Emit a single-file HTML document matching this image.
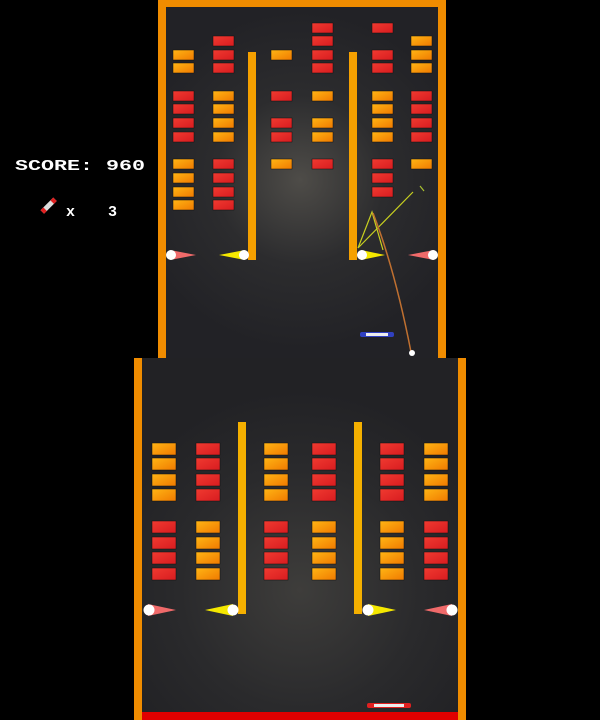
<!DOCTYPE html>
<html><head><meta charset="utf-8"><style>
html,body{margin:0;padding:0;background:#000;width:600px;height:720px;overflow:hidden}
svg{display:block}
</style></head><body>
<svg width="600" height="720" viewBox="0 0 600 720" xmlns="http://www.w3.org/2000/svg">
<defs>
<radialGradient id="g1" cx="300" cy="180" r="170" gradientUnits="userSpaceOnUse">
<stop offset="0" stop-color="#4e4c48"/><stop offset="0.5" stop-color="#2c2c2e"/><stop offset="1" stop-color="#222226"/></radialGradient>
<radialGradient id="g2" cx="300" cy="590" r="200" gradientUnits="userSpaceOnUse">
<stop offset="0" stop-color="#3e3d3b"/><stop offset="0.6" stop-color="#2a2a2c"/><stop offset="1" stop-color="#222225"/></radialGradient>
<linearGradient id="o" x1="0" y1="0" x2="1" y2="1"><stop offset="0" stop-color="#ffb514"/><stop offset="1" stop-color="#f07a00"/></linearGradient>
<linearGradient id="r" x1="0" y1="0" x2="1" y2="1"><stop offset="0" stop-color="#f03a30"/><stop offset="1" stop-color="#d81c20"/></linearGradient>
</defs>
<rect width="600" height="720" fill="#000"/>
<rect x="158" y="0" width="288" height="360" fill="#f08c00"/>
<rect x="166" y="7" width="272" height="353" fill="url(#g1)"/>
<rect x="134" y="358" width="332" height="362" fill="#f08c00"/>
<rect x="142" y="358" width="316" height="362" fill="url(#g2)"/>
<rect x="142" y="712" width="316" height="8" fill="#e00000"/>
<rect x="248" y="52" width="8" height="208" fill="#f5a000"/>
<rect x="349" y="52" width="8" height="208" fill="#f5a000"/>
<rect x="238" y="422" width="8" height="192" fill="#f5b000"/>
<rect x="354" y="422" width="8" height="192" fill="#f5b000"/>
<g stroke="#111" stroke-width="0.5">
<rect x="173" y="50" width="21" height="10" fill="url(#o)"/><rect x="173" y="63" width="21" height="10" fill="url(#o)"/>
<rect x="173" y="91" width="21" height="10" fill="url(#r)"/><rect x="173" y="104" width="21" height="10" fill="url(#r)"/><rect x="173" y="118" width="21" height="10" fill="url(#r)"/><rect x="173" y="132" width="21" height="10" fill="url(#r)"/>
<rect x="173" y="159" width="21" height="10" fill="url(#o)"/><rect x="173" y="173" width="21" height="10" fill="url(#o)"/><rect x="173" y="187" width="21" height="10" fill="url(#o)"/><rect x="173" y="200" width="21" height="10" fill="url(#o)"/>
<rect x="213" y="36" width="21" height="10" fill="url(#r)"/><rect x="213" y="50" width="21" height="10" fill="url(#r)"/><rect x="213" y="63" width="21" height="10" fill="url(#r)"/>
<rect x="213" y="91" width="21" height="10" fill="url(#o)"/><rect x="213" y="104" width="21" height="10" fill="url(#o)"/><rect x="213" y="118" width="21" height="10" fill="url(#o)"/><rect x="213" y="132" width="21" height="10" fill="url(#o)"/>
<rect x="213" y="159" width="21" height="10" fill="url(#r)"/><rect x="213" y="173" width="21" height="10" fill="url(#r)"/><rect x="213" y="187" width="21" height="10" fill="url(#r)"/><rect x="213" y="200" width="21" height="10" fill="url(#r)"/>
<rect x="271" y="50" width="21" height="10" fill="url(#o)"/><rect x="271" y="91" width="21" height="10" fill="url(#r)"/><rect x="271" y="118" width="21" height="10" fill="url(#r)"/><rect x="271" y="132" width="21" height="10" fill="url(#r)"/><rect x="271" y="159" width="21" height="10" fill="url(#o)"/>
<rect x="312" y="23" width="21" height="10" fill="url(#r)"/><rect x="312" y="36" width="21" height="10" fill="url(#r)"/><rect x="312" y="50" width="21" height="10" fill="url(#r)"/><rect x="312" y="63" width="21" height="10" fill="url(#r)"/>
<rect x="312" y="91" width="21" height="10" fill="url(#o)"/><rect x="312" y="118" width="21" height="10" fill="url(#o)"/><rect x="312" y="132" width="21" height="10" fill="url(#o)"/><rect x="312" y="159" width="21" height="10" fill="url(#r)"/>
<rect x="372" y="23" width="21" height="10" fill="url(#r)"/><rect x="372" y="50" width="21" height="10" fill="url(#r)"/><rect x="372" y="63" width="21" height="10" fill="url(#r)"/>
<rect x="372" y="91" width="21" height="10" fill="url(#o)"/><rect x="372" y="104" width="21" height="10" fill="url(#o)"/><rect x="372" y="118" width="21" height="10" fill="url(#o)"/><rect x="372" y="132" width="21" height="10" fill="url(#o)"/>
<rect x="372" y="159" width="21" height="10" fill="url(#r)"/><rect x="372" y="173" width="21" height="10" fill="url(#r)"/><rect x="372" y="187" width="21" height="10" fill="url(#r)"/>
<rect x="411" y="36" width="21" height="10" fill="url(#o)"/><rect x="411" y="50" width="21" height="10" fill="url(#o)"/><rect x="411" y="63" width="21" height="10" fill="url(#o)"/>
<rect x="411" y="91" width="21" height="10" fill="url(#r)"/><rect x="411" y="104" width="21" height="10" fill="url(#r)"/><rect x="411" y="118" width="21" height="10" fill="url(#r)"/><rect x="411" y="132" width="21" height="10" fill="url(#r)"/>
<rect x="411" y="159" width="21" height="10" fill="url(#o)"/>
<rect x="152" y="443" width="24" height="12" fill="url(#o)"/><rect x="152" y="458" width="24" height="12" fill="url(#o)"/><rect x="152" y="474" width="24" height="12" fill="url(#o)"/><rect x="152" y="489" width="24" height="12" fill="url(#o)"/>
<rect x="196" y="443" width="24" height="12" fill="url(#r)"/><rect x="196" y="458" width="24" height="12" fill="url(#r)"/><rect x="196" y="474" width="24" height="12" fill="url(#r)"/><rect x="196" y="489" width="24" height="12" fill="url(#r)"/>
<rect x="264" y="443" width="24" height="12" fill="url(#o)"/><rect x="264" y="458" width="24" height="12" fill="url(#o)"/><rect x="264" y="474" width="24" height="12" fill="url(#o)"/><rect x="264" y="489" width="24" height="12" fill="url(#o)"/>
<rect x="312" y="443" width="24" height="12" fill="url(#r)"/><rect x="312" y="458" width="24" height="12" fill="url(#r)"/><rect x="312" y="474" width="24" height="12" fill="url(#r)"/><rect x="312" y="489" width="24" height="12" fill="url(#r)"/>
<rect x="380" y="443" width="24" height="12" fill="url(#r)"/><rect x="380" y="458" width="24" height="12" fill="url(#r)"/><rect x="380" y="474" width="24" height="12" fill="url(#r)"/><rect x="380" y="489" width="24" height="12" fill="url(#r)"/>
<rect x="424" y="443" width="24" height="12" fill="url(#o)"/><rect x="424" y="458" width="24" height="12" fill="url(#o)"/><rect x="424" y="474" width="24" height="12" fill="url(#o)"/><rect x="424" y="489" width="24" height="12" fill="url(#o)"/>
<rect x="152" y="521" width="24" height="12" fill="url(#r)"/><rect x="152" y="537" width="24" height="12" fill="url(#r)"/><rect x="152" y="552" width="24" height="12" fill="url(#r)"/><rect x="152" y="568" width="24" height="12" fill="url(#r)"/>
<rect x="196" y="521" width="24" height="12" fill="url(#o)"/><rect x="196" y="537" width="24" height="12" fill="url(#o)"/><rect x="196" y="552" width="24" height="12" fill="url(#o)"/><rect x="196" y="568" width="24" height="12" fill="url(#o)"/>
<rect x="264" y="521" width="24" height="12" fill="url(#r)"/><rect x="264" y="537" width="24" height="12" fill="url(#r)"/><rect x="264" y="552" width="24" height="12" fill="url(#r)"/><rect x="264" y="568" width="24" height="12" fill="url(#r)"/>
<rect x="312" y="521" width="24" height="12" fill="url(#o)"/><rect x="312" y="537" width="24" height="12" fill="url(#o)"/><rect x="312" y="552" width="24" height="12" fill="url(#o)"/><rect x="312" y="568" width="24" height="12" fill="url(#o)"/>
<rect x="380" y="521" width="24" height="12" fill="url(#o)"/><rect x="380" y="537" width="24" height="12" fill="url(#o)"/><rect x="380" y="552" width="24" height="12" fill="url(#o)"/><rect x="380" y="568" width="24" height="12" fill="url(#o)"/>
<rect x="424" y="521" width="24" height="12" fill="url(#r)"/><rect x="424" y="537" width="24" height="12" fill="url(#r)"/><rect x="424" y="552" width="24" height="12" fill="url(#r)"/><rect x="424" y="568" width="24" height="12" fill="url(#r)"/>
</g>
<polygon points="170,250 196,255 170,260" fill="#f06a6a"/><circle cx="171" cy="255" r="5" fill="#fff"/>
<polygon points="245,250 219,255 245,260" fill="#f5e800"/><circle cx="244" cy="255" r="5" fill="#fff"/>
<polygon points="361,250 385,255 361,260" fill="#f5e800"/><circle cx="362" cy="255" r="5" fill="#fff"/>
<polygon points="434,250 408,255 434,260" fill="#f06a6a"/><circle cx="433" cy="255" r="5" fill="#fff"/>
<polygon points="148,604 176,610 148,616" fill="#f06a6a"/><circle cx="149" cy="610" r="5.5" fill="#fff"/>
<polygon points="233,604 205,610 233,616" fill="#f5e800"/><circle cx="233" cy="610" r="5.5" fill="#fff"/>
<polygon points="368,604 396,610 368,616" fill="#f5e800"/><circle cx="368" cy="610" r="5.5" fill="#fff"/>
<polygon points="452,604 424,610 452,616" fill="#f06a6a"/><circle cx="452" cy="610" r="5.5" fill="#fff"/>
<polyline points="413,192 358,248 372,212 383,250" fill="none" stroke="#c8d020" stroke-width="1.2"/>
<path d="M373,213 Q395,270 411,352" fill="none" stroke="#c07030" stroke-width="1.5"/>
<line x1="420" y1="186" x2="424" y2="191" stroke="#a8c030" stroke-width="1.2"/>
<circle cx="412" cy="353" r="3" fill="#fff"/>
<rect x="360" y="332" width="34" height="5" rx="2" fill="#3040c0"/><rect x="366" y="333" width="22" height="3" fill="#eee"/>
<rect x="367" y="703" width="44" height="5" rx="2" fill="#e02020"/><rect x="374" y="704" width="30" height="3" fill="#eee"/>
<text x="15" y="170" fill="#fff" font-family="Liberation Mono, monospace" font-weight="bold" font-size="15" textLength="130" lengthAdjust="spacingAndGlyphs">SCORE: 960</text>
<g transform="rotate(-45 49 206)"><rect x="40" y="203" width="18" height="5" fill="#ddd"/><rect x="40" y="203" width="4" height="5" fill="#e02020"/><rect x="54" y="203" width="4" height="5" fill="#e02020"/></g>
<text x="66" y="216" fill="#fff" font-family="Liberation Mono, monospace" font-weight="bold" font-size="15">x</text>
<text x="108" y="216" fill="#fff" font-family="Liberation Mono, monospace" font-weight="bold" font-size="15">3</text>
</svg>
</body></html>
